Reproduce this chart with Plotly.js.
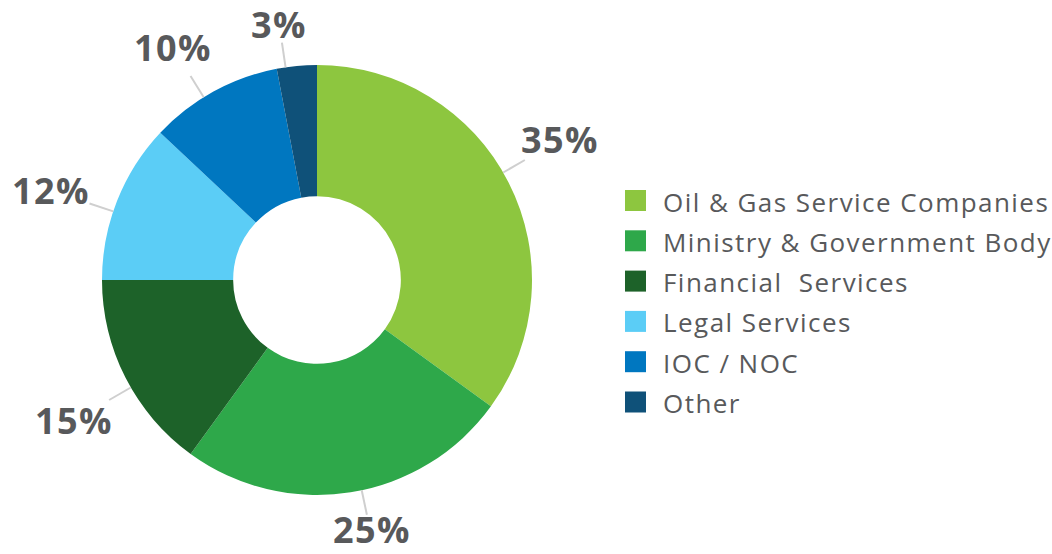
<!DOCTYPE html>
<html>
<head>
<meta charset="utf-8">
<script src="https://cdn.plot.ly/plotly-3.0.1.min.js"></script>
<style>
html,body{margin:0;padding:0;background:#fff;}
#chart{width:1052px;height:554px;}
text.annotation-text{letter-spacing:1.45px;}
</style>
</head>
<body>
<div id="chart"></div>
<script>
// ---- data ----
const categories = ["Oil & Gas Service Companies", "Ministry & Government Body", "Financial  Services", "Legal Services", "IOC / NOC", "Other"];
const values = [35, 25, 15, 12, 10, 3];
const colors = ["#8DC63F", "#2EA84A", "#1D6229", "#5BCDF6", "#0077C0", "#0F5179"];
const valueLabels = values.map(v => v + "%");

// ---- layout geometry ----
const W = 1052, H = 554;
const cx = 317, cy = 280, R = 215;
const hole = 0.39;
const textColor = "#58595B";

const px = x => x / W;
const py = y => 1 - y / H;

const trace = {
  type: "pie",
  labels: categories,
  values: values,
  sort: false,
  direction: "clockwise",
  rotation: 0,
  hole: hole,
  textinfo: "none",
  hoverinfo: "label+percent",
  marker: { colors: colors, line: { width: 0 } },
  domain: { x: [px(cx - R), px(cx + R)], y: [py(cy + R), py(cy - R)] },
  showlegend: false
};

const shapes = [];
const annotations = [];
const total = values.reduce((a, b) => a + b, 0);
const shift = -3 * Math.PI / 180;
let cum = 0;
values.forEach((v, i) => {
  const mid = (cum + v / 2) / total * 2 * Math.PI + shift;
  cum += v;
  const s = Math.sin(mid), c = Math.cos(mid);
  const r1 = R, r2 = R + 25;
  shapes.push({
    type: "line", xref: "paper", yref: "paper",
    x0: px(cx + r1 * s), y0: py(cy - r1 * c),
    x1: px(cx + r2 * s), y1: py(cy - r2 * c),
    line: { color: "#CFCFCF", width: 2 }
  });
  const halfW = valueLabels[i].length === 2 ? 27 : 38;
  const halfH = 16;
  const rt = r2 + halfW * Math.abs(s) + halfH * Math.abs(c);
  let ty = cy - rt * c;
  ty = Math.min(Math.max(ty, 25), 529);
  annotations.push({
    xref: "paper", yref: "paper",
    x: px(cx + rt * s), y: py(ty),
    xanchor: "center", yanchor: "middle",
    text: valueLabels[i], showarrow: false,
    font: { family: "Open Sans", size: 36, color: textColor, weight: 700 }
  });
});

// custom legend
const legX = 625, legY0 = 200.5, legStep = 40.3, sq = 21;
categories.forEach((name, i) => {
  const yc = legY0 + i * legStep;
  shapes.push({
    type: "rect", xref: "paper", yref: "paper",
    x0: px(legX), x1: px(legX + sq), y0: py(yc + sq / 2), y1: py(yc - sq / 2),
    fillcolor: colors[i], line: { width: 0 }
  });
  annotations.push({
    xref: "paper", yref: "paper",
    x: px(legX + 36), y: py(yc + 1),
    xanchor: "left", yanchor: "middle",
    text: name.replace(/  /g, " &nbsp;"), showarrow: false,
    font: { family: "Open Sans", size: 26, color: textColor }
  });
});

const layout = {
  width: W, height: H,
  margin: { l: 0, r: 0, t: 0, b: 0 },
  paper_bgcolor: "#fff",
  plot_bgcolor: "#fff",
  showlegend: false,
  shapes: shapes,
  annotations: annotations
};

Plotly.newPlot("chart", [trace], layout, { displayModeBar: false, staticPlot: true });
</script>
</body>
</html>
